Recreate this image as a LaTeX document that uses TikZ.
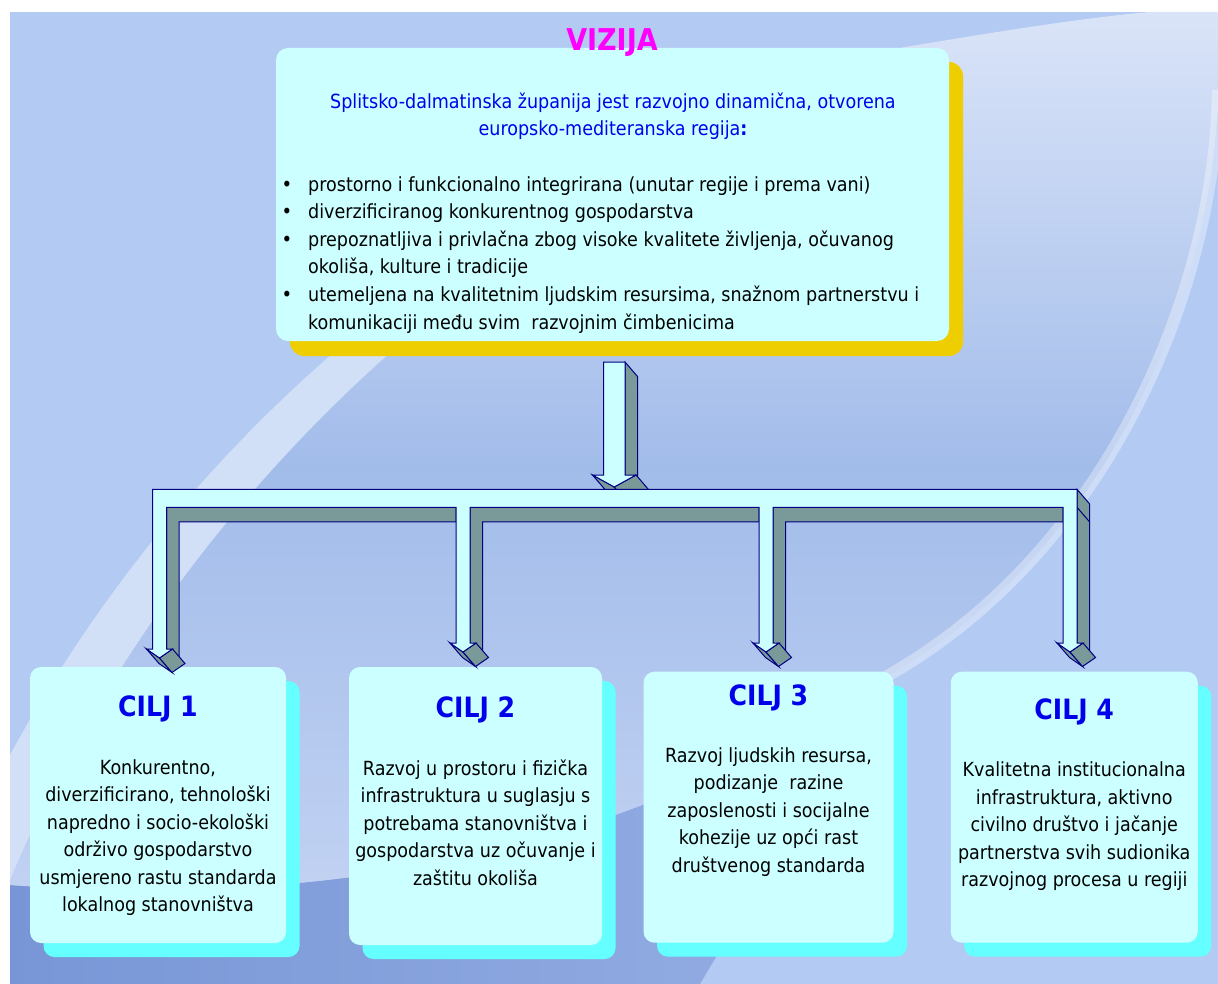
\documentclass[tikz,border=0pt]{standalone}
\usepackage{fontspec}
\IfFontExistsTF{DejaVu Sans Condensed}
 {\setmainfont{DejaVu Sans Condensed}\def\bsz{19.5pt}\def\tsz{28pt}\def\vsz{30pt}}
 {\setmainfont{DejaVu Sans}\def\bsz{17.5pt}\def\tsz{25pt}\def\vsz{27pt}}
\usetikzlibrary{calc}
\definecolor{bgbase}{RGB}{179,202,243}
\definecolor{rtop}{RGB}{218,228,248}
\definecolor{rmid}{RGB}{162,188,234}
\definecolor{rbot}{RGB}{195,211,243}
\definecolor{bgdark}{RGB}{120,150,214}
\definecolor{bgdarkr}{RGB}{150,175,228}
\definecolor{boxfill}{RGB}{204,255,255}
\definecolor{cyanshadow}{RGB}{102,255,255}
\definecolor{goldshadow}{RGB}{238,206,0}
\definecolor{arrowgrey}{RGB}{122,153,153}
\definecolor{arrowline}{RGB}{0,0,128}
\definecolor{headblue}{RGB}{0,0,235}
\definecolor{vizmag}{RGB}{255,0,255}
\tikzset{
  bodytxt/.style={anchor=base, inner sep=0pt, font=\fontsize{\bsz}{27.5pt}\selectfont},
  bodyleft/.style={bodytxt, anchor=base west},
  bullettxt/.style={anchor=base, inner sep=0pt, font=\fontsize{20pt}{24pt}\selectfont},
  titletxt/.style={anchor=base, inner sep=0pt, text=headblue, font=\fontsize{\tsz}{30pt}\selectfont\bfseries},
  panel/.style={fill=boxfill, draw=none, rounded corners=11pt, inner sep=0pt},
  cshadow/.style={fill=cyanshadow, rounded corners=11pt},
  arrowfront/.style={fill=boxfill, draw=arrowline, line width=1pt, line join=miter},
  arrowside/.style={fill=arrowgrey, draw=arrowline, line width=1pt, line join=miter}
}
\begin{document}
\begin{tikzpicture}[x=1pt,y=-1pt]
\useasboundingbox (0,0) rectangle (1218,984);
% ---------- background ----------
\begin{scope}
\clip (10,12) rectangle (1218,984);
\fill[bgbase] (10,12) rectangle (1218,984);
\shade[left color=bgdark, right color=bgdarkr] (880,680) .. controls (760,760) and (500,920) .. (10,885) -- (10,984) -- (700,984) -- cycle;
\shade[top color=rtop, bottom color=rbot, middle color=rmid]
  (905,47) .. controls (990,33) and (1080,18) .. (1150,12) -- (1218,12) -- (1218,90)
  .. controls (1215,300) and (1100,560) .. (880,680)
  .. controls (760,760) and (500,920) .. (10,885) -- (10,880)
  .. controls (110,640) and (360,250) .. (905,47) -- cycle;
\fill[white, opacity=0.4] (10,880) .. controls (110,640) and (360,250) .. (905,47)
  -- (845,60) .. controls (300,250) and (50,640) .. (-50,880) -- cycle;
\draw[white, opacity=0.35, line width=12pt] (1218,90) .. controls (1215,300) and (1100,560) .. (880,680);
\end{scope}
% ---------- vision box ----------
\fill[goldshadow, rounded corners=14pt] (290,62) rectangle (963,356);
\node[panel, rounded corners=12pt, minimum width=673pt, minimum height=293pt] (vis) at (612.5,194.5) {};
\node[anchor=base, inner sep=0pt, text=vizmag, font=\fontsize{\vsz}{32pt}\selectfont\bfseries] (viz) at (612,51) {VIZIJA};
\node[bodytxt, text=headblue] (h1) at (613,108.5) {Splitsko-dalmatinska županija jest razvojno dinamična, otvorena};
\node[bodytxt, text=headblue] (h2) at (613,135.5) {europsko-mediteranska regija\textbf{:}};
\node[bullettxt] (d1) at (287,191.5) {•};
\node[bullettxt] (d2) at (287,219) {•};
\node[bullettxt] (d3) at (287,246.5) {•};
\node[bullettxt] (d4) at (287,301.5) {•};
\node[bodyleft] (b1) at (308,191.5) {prostorno i funkcionalno integrirana (unutar regije i prema vani)};
\node[bodyleft] (b2) at (308,219) {diverzificiranog konkurentnog gospodarstva};
\node[bodyleft] (b3) at (308,246.5) {prepoznatljiva i privlačna zbog visoke kvalitete življenja, očuvanog};
\node[bodyleft] (b3b) at (308,274) {okoliša, kulture i tradicije};
\node[bodyleft] (b4) at (308,301.5) {utemeljena na kvalitetnim ljudskim resursima, snažnom partnerstvu i};
\node[bodyleft] (b4b) at (308,329) {komunikaciji među svim~ razvojnim čimbenicima};
% ---------- goal boxes ----------
\fill[cshadow] (43.5,681) rectangle (299.5,957);
\node[panel, minimum width=256pt, minimum height=276pt] (g1) at (158,805) {};
\fill[cshadow] (362.5,681) rectangle (615.5,959);
\node[panel, minimum width=253pt, minimum height=278pt] (g2) at (475.5,806) {};
\fill[cshadow] (657,685.7) rectangle (907,956.7);
\node[panel, minimum width=250pt, minimum height=271pt] (g3) at (768.5,807.2) {};
\fill[cshadow] (964.2,685.7) rectangle (1211.3,956.7);
\node[panel, minimum width=247pt, minimum height=271pt] (g4) at (1074.25,807.2) {};
% ---------- arrows ----------
% top arrow
\filldraw[arrowside] (625,362) -- (637.5,376.5) -- (637.5,489.5) -- (625,475) -- cycle;
\filldraw[arrowside] (592.5,475) -- (614.25,487) -- (626.75,501.5) -- (605,489.5) -- cycle;
\filldraw[arrowside] (614.25,487) -- (636,475) -- (648.5,489.5) -- (626.75,501.5) -- cycle;
\filldraw[arrowfront] (603.5,362) -- (625,362) -- (625,475) -- (636,475) -- (614.25,487) -- (592.5,475) -- (603.5,475) -- cycle;
% bar depth faces
\filldraw[arrowside] (166.5,507.3) -- (456,507.3) -- (456,521.8) -- (179,521.8) -- (179,663.5) -- (166.5,649) -- cycle;
\filldraw[arrowside] (470,507.3) -- (759,507.3) -- (759,521.8) -- (482.5,521.8) -- (482.5,657.5) -- (470,643) -- cycle;
\filldraw[arrowside] (773,507.3) -- (1063,507.3) -- (1063,521.8) -- (785.5,521.8) -- (785.5,657.5) -- (773,643) -- cycle;
\filldraw[arrowside] (1077,489.3) -- (1089.5,503.8) -- (1089.5,657.5) -- (1077,643) -- cycle;
\draw[arrowline, line width=1pt] (1077,507.3) -- (1089.5,521.8);
% heads depth faces
\foreach \c/\wy in {159.5/649, 463/643, 766/643, 1070/643}{
  \filldraw[arrowside] (\c-13,\wy) -- (\c,\wy+9) -- (\c+12.5,\wy+23.5) -- (\c-0.5,\wy+14.5) -- cycle;
  \filldraw[arrowside] (\c,\wy+9) -- (\c+13,\wy) -- (\c+25.5,\wy+14.5) -- (\c+12.5,\wy+23.5) -- cycle;
}
% front face of the distributor
\filldraw[arrowfront] (152.5,489.3) -- (1077,489.3) -- (1077,643) -- (1083,643) -- (1070,652) -- (1057,643) -- (1063,643)
  -- (1063,507.3) -- (773,507.3) -- (773,643) -- (779,643) -- (766,652) -- (753,643) -- (759,643)
  -- (759,507.3) -- (470,507.3) -- (470,643) -- (476,643) -- (463,652) -- (450,643) -- (456,643)
  -- (456,507.3) -- (166.5,507.3) -- (166.5,649) -- (172.5,649) -- (159.5,658) -- (146.5,649) -- (152.5,649) -- cycle;
% ---------- goal texts ----------
\node[titletxt] (t1) at (158,716.7) {CILJ 1};
\node[bodytxt] (c1a) at (158,774) {Konkurentno,};
\node[bodytxt] (c1b) at (158,801.5) {diverzificirano, tehnološki};
\node[bodytxt] (c1c) at (158,829) {napredno i socio-ekološki};
\node[bodytxt] (c1d) at (158,856.5) {održivo gospodarstvo};
\node[bodytxt] (c1e) at (158,884) {usmjereno rastu standarda};
\node[bodytxt] (c1f) at (158,911.5) {lokalnog stanovništva};
\node[titletxt] (t2) at (475.5,717) {CILJ 2};
\node[bodytxt] (c2a) at (475.5,775) {Razvoj u prostoru i fizička};
\node[bodytxt] (c2b) at (475.5,802.5) {infrastruktura u suglasju s};
\node[bodytxt] (c2c) at (475.5,830) {potrebama stanovništva i};
\node[bodytxt] (c2d) at (475.5,857.5) {gospodarstva uz očuvanje i};
\node[bodytxt] (c2e) at (475.5,885) {zaštitu okoliša};
\node[titletxt] (t3) at (768.5,705) {CILJ 3};
\node[bodytxt] (c3a) at (768.5,762.3) {Razvoj ljudskih resursa,};
\node[bodytxt] (c3b) at (768.5,789.8) {podizanje~ razine};
\node[bodytxt] (c3c) at (768.5,817.3) {zaposlenosti i socijalne};
\node[bodytxt] (c3d) at (768.5,844.8) {kohezije uz opći rast};
\node[bodytxt] (c3e) at (768.5,872.3) {društvenog standarda};
\node[titletxt] (t4) at (1074.25,719) {CILJ 4};
\node[bodytxt] (c4a) at (1074.25,776.7) {Kvalitetna institucionalna};
\node[bodytxt] (c4b) at (1074.25,804.2) {infrastruktura, aktivno};
\node[bodytxt] (c4c) at (1074.25,831.7) {civilno društvo i jačanje};
\node[bodytxt] (c4d) at (1074.25,859.2) {partnerstva svih sudionika};
\node[bodytxt] (c4e) at (1074.25,886.7) {razvojnog procesa u regiji};
\end{tikzpicture}
\end{document}
